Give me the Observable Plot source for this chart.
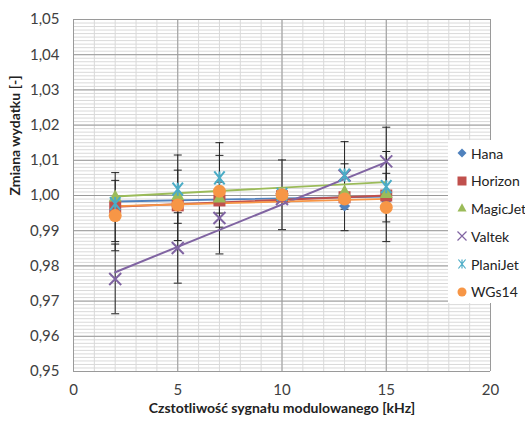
<!DOCTYPE html>
<html><head><meta charset="utf-8">
<script src="https://cdn.jsdelivr.net/npm/d3@7"></script>
<script src="https://cdn.jsdelivr.net/npm/@observablehq/plot@0.6"></script>
<style>
body{margin:0;background:#fff;}
#wrap{position:relative;width:525px;height:421px;font-family:Lato,sans-serif;overflow:hidden;}
#legend{position:absolute;left:448px;top:140px;width:77px;height:163px;background:#fff;}
.li{position:absolute;left:6px;height:20px;display:flex;align-items:center;font-size:14px;color:#222;}
.li svg{margin-right:1px;}
</style></head><body><div id="wrap"><div id="legend"></div></div>
<script>
// ---- data ----
const freqs = [2, 5, 7, 10, 13, 15];
const seriesNames = ["Hana", "Horizon", "MagicJet", "Valtek", "PlaniJet", "WGs14"];
const hana     = [0.9978, 0.9982, 0.9985, 1.0003, 0.9970, 0.9985];
const horizon  = [0.9967, 0.9972, 0.9986, 0.9998, 0.9995, 1.0000];
const magicJet = [0.9998, 1.0002, 0.9995, 1.0005, 1.0012, 1.0008];
const valtek   = [0.9763, 0.9851, 0.9936, 0.9990, 1.0057, 1.0097];
const planiJet = [0.9977, 1.0018, 1.0050, 1.0003, 1.0058, 1.0025];
const wgs14    = [0.9943, 0.9973, 1.0012, 1.0002, 0.9990, 0.9966];
// error bar half-widths (0 = none visible)
const errHana     = [0, 0, 0, 0, 0, 0];
const errHorizon  = [0.0098, 0.0100, 0, 0, 0.0095, 0];
const errMagicJet = [0, 0, 0, 0, 0, 0];
const errValtek   = [0.0099, 0.0100, 0.0102, 0, 0.0096, 0.0097];
const errPlaniJet = [0, 0.0097, 0.0100, 0, 0, 0.0100];
const errWgs14    = [0.0100, 0, 0.0102, 0.0099, 0, 0.0097];
// linear trend lines, values at first and last frequency
const trendX        = [2, 15];
const trendHana     = [0.9983, 0.9997];
const trendHorizon  = [0.9968, 1.0000];
const trendMagicJet = [0.99972, 1.0038];
const trendValtek   = [0.9782, 1.0095];
const trendWgs14    = [0.99697, 0.99906];
const yTicks = [0.95, 0.96, 0.97, 0.98, 0.99, 1.00, 1.01, 1.02, 1.03, 1.04, 1.05];
const xTicks = [0, 5, 10, 15, 20];
const xTitle = "Czstotliwość sygnału modulowanego [kHz]";
const yTitle = "Zmiana wydatku [-]";

// ---- styling ----
const colors = ["#4F81BD", "#C0504D", "#9BBB59", "#8064A2", "#4BACC6", "#F79646"];
const rad = s => Math.sqrt(s / Math.PI);
const symbols = {
  diamond: {draw(c, s) {const r = rad(s); c.moveTo(0, -r); c.lineTo(r, 0); c.lineTo(0, r); c.lineTo(-r, 0); c.closePath();}},
  square: {draw(c, s) {const r = rad(s); c.rect(-r, -r, 2 * r, 2 * r);}},
  triangle: {draw(c, s) {const r = rad(s); c.moveTo(0, -r * 1.05); c.lineTo(r, r * 0.8); c.lineTo(-r, r * 0.8); c.closePath();}},
  times: {draw(c, s) {const r = rad(s); c.moveTo(-r, -r); c.lineTo(r, r); c.moveTo(-r, r); c.lineTo(r, -r);}},
  star: {draw(c, s) {const r = rad(s); c.moveTo(-r * 0.8, -r); c.lineTo(r * 0.8, r); c.moveTo(-r * 0.8, r); c.lineTo(r * 0.8, -r); c.moveTo(0, -r); c.lineTo(0, r);}},
  circle: {draw(c, s) {const r = rad(s); c.moveTo(r, 0); c.arc(0, 0, r, 0, 2 * Math.PI);}},
  cap: {draw(c, s) {const r = rad(s); c.moveTo(-r, 0); c.lineTo(r, 0);}}
};
const seriesStyle = [
  {sym: symbols.diamond, r: 5.5, filled: true},
  {sym: symbols.square, r: 6, filled: true},
  {sym: symbols.triangle, r: 6.5, filled: true},
  {sym: symbols.times, r: 6, filled: false},
  {sym: symbols.star, r: 6.5, filled: false},
  {sym: symbols.circle, r: 6.5, filled: true}
];
const values = [hana, horizon, magicJet, valtek, planiJet, wgs14];
const errs = [errHana, errHorizon, errMagicJet, errValtek, errPlaniJet, errWgs14];
const trends = [trendHana, trendHorizon, trendMagicJet, trendValtek, null, trendWgs14];

const rows = [];
values.forEach((vals, i) => vals.forEach((v, j) => rows.push({s: i, x: freqs[j], y: v, e: errs[i][j]})));
const errRows = rows.filter(d => d.e > 0);
const capRows = errRows.flatMap(d => [{x: d.x, y: d.y - d.e}, {x: d.x, y: d.y + d.e}]);
const trendRows = [];
trends.forEach((t, i) => { if (t) t.forEach((v, j) => trendRows.push({s: i, x: trendX[j], y: v})); });

const minorY = d3.range(0, 101).map(i => 0.95 + i / 1000);
const minorX = d3.range(0, 21);
const fmt = d => d.toFixed(2).replace(".", ",");

const marks = [
  Plot.ruleY(minorY, {stroke: "#d9d9d9", strokeWidth: 1}),
  Plot.ruleX(minorX, {stroke: "#d9d9d9", strokeWidth: 1}),
  Plot.ruleY(yTicks, {stroke: "#9a9a9a", strokeWidth: 1}),
  Plot.ruleX(xTicks, {stroke: "#9a9a9a", strokeWidth: 1}),
  Plot.axisY(yTicks, {tickSize: 0, tickPadding: 14, tickFormat: fmt, fontSize: 15, fill: "#404040", label: null}),
  Plot.axisX(xTicks, {tickSize: 0, tickPadding: 13, tickFormat: d => String(d), fontSize: 15, fill: "#404040", label: null}),
  Plot.ruleX(errRows, {x: "x", y1: d => d.y - d.e, y2: d => d.y + d.e, stroke: "#222", strokeWidth: 1}),
  Plot.dot(capRows, {x: "x", y: "y", symbol: symbols.cap, r: 4, stroke: "#222", strokeWidth: 1, fill: "none"})
];
trends.forEach((t, i) => {
  if (!t) return;
  marks.push(Plot.line(trendRows.filter(d => d.s === i), {x: "x", y: "y", stroke: colors[i], strokeWidth: i === 3 ? 2 : 1.8}));
});
seriesStyle.forEach((st, i) => {
  const data = rows.filter(d => d.s === i);
  marks.push(Plot.dot(data, st.filled
    ? {x: "x", y: "y", symbol: st.sym, r: st.r, fill: colors[i], stroke: "none"}
    : {x: "x", y: "y", symbol: st.sym, r: st.r, fill: "none", stroke: colors[i], strokeWidth: 2}));
});
marks.push(Plot.text([xTitle], {frameAnchor: "bottom", dy: 41, text: d => d, fontSize: 14, fontWeight: "bold", fill: "#222"}));
marks.push(Plot.text([yTitle], {frameAnchor: "left", dx: -58, rotate: -90, text: d => d, fontSize: 14, fontWeight: "bold", fill: "#222"}));

const chart = Plot.plot({
  width: 525, height: 421,
  marginLeft: 73, marginRight: 35, marginTop: 19, marginBottom: 50,
  style: {fontFamily: "Lato, sans-serif", background: "#fff"},
  x: {domain: [0, 20], label: null},
  y: {domain: [0.95, 1.05], label: null},
  marks
});
const wrap = document.getElementById("wrap");
wrap.insertBefore(chart, wrap.firstChild);

// ---- legend ----
const legend = d3.select("#legend");
const legendY = [13, 40.7, 68, 96, 124, 151.7];
seriesNames.forEach((name, i) => {
  const item = legend.append("div").attr("class", "li").style("top", (legendY[i] - 10) + "px");
  const svg = item.append("svg").attr("width", 16).attr("height", 20);
  const st = seriesStyle[i];
  const p = d3.path();
  st.sym.draw(p, Math.PI * 4.5 * 4.5);
  const path = svg.append("path").attr("transform", "translate(8,10)").attr("d", p.toString());
  if (st.filled) path.attr("fill", colors[i]);
  else path.attr("fill", "none").attr("stroke", colors[i]).attr("stroke-width", 1.2);
  item.append("span").text(name);
});
</script></body></html>
